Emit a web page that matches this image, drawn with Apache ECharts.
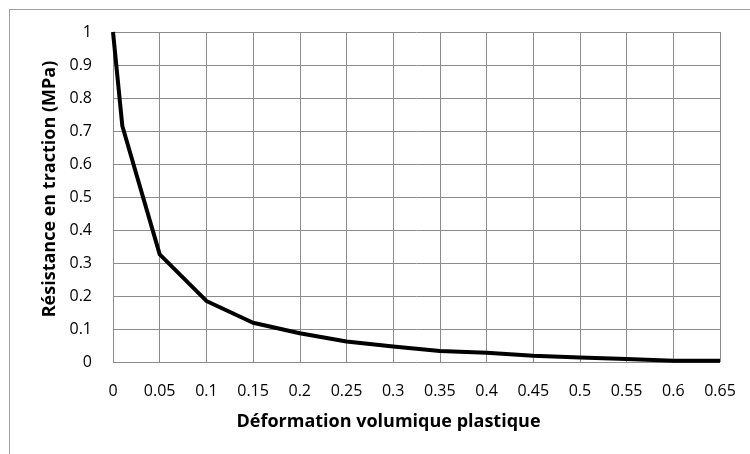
<!DOCTYPE html>
<html><head><meta charset="utf-8">
<script src="https://cdn.jsdelivr.net/npm/echarts@6/dist/echarts.min.js"></script>
<style>html,body{margin:0;padding:0;background:#fff}#c{width:750px;height:454px;position:relative}
#b{position:absolute;left:9px;top:9px;width:800px;height:500px;border:1px solid #a0a0a0;box-sizing:border-box;pointer-events:none}</style>
</head><body><div id="c"></div><div id="b"></div>
<script>
const xValues = [0, 0.01, 0.05, 0.1, 0.15, 0.2, 0.25, 0.3, 0.35, 0.4, 0.45, 0.5, 0.55, 0.6, 0.65];
const yValues = [1, 0.715, 0.326, 0.185, 0.119, 0.087, 0.062, 0.047, 0.033, 0.028, 0.019, 0.014, 0.009, 0.004, 0.004];
const xTitle = 'Déformation volumique plastique';
const yTitle = 'Résistance en traction (MPa)';
const font = 'Open Sans';
const chart = echarts.init(document.getElementById('c'), null, {renderer:'canvas'});
chart.setOption({
  animation:false,
  grid:{left:113, top:32, right:30, bottom:92},
  xAxis:{type:'value', min:0, max:0.65, interval:0.05,
    name:xTitle, nameLocation:'middle', nameGap:51,
    nameTextStyle:{fontFamily:font, fontWeight:'bold', fontSize:18, color:'#000', padding:[0,56,0,0]},
    axisLine:{show:false}, axisTick:{show:false},
    axisLabel:{fontFamily:font, fontSize:16, color:'#000', margin:21, formatter:v=>String(+v.toFixed(2))},
    splitLine:{show:true, lineStyle:{color:'#8c8c8c', width:1}}},
  yAxis:{type:'value', min:0, max:1, interval:0.1,
    name:yTitle, nameLocation:'middle', nameGap:54,
    nameTextStyle:{fontFamily:font, fontWeight:'bold', fontSize:18, color:'#000', padding:[0,0,0,16]},
    axisLine:{show:false}, axisTick:{show:false},
    axisLabel:{fontFamily:font, fontSize:16, color:'#000', margin:21, formatter:v=>String(+v.toFixed(1))},
    splitLine:{show:true, lineStyle:{color:'#8c8c8c', width:1}}},
  series:[{type:'line', data:xValues.map((x,i)=>[x,yValues[i]]), showSymbol:false,
    lineStyle:{color:'#000', width:4, join:'round'}}]
});
</script></body></html>
